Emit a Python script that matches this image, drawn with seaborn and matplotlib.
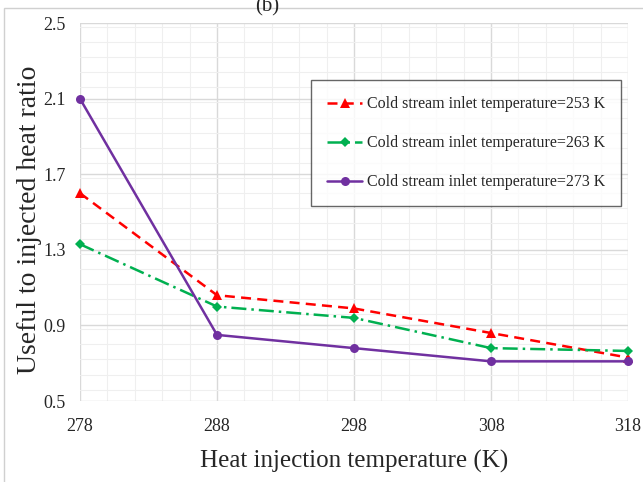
import matplotlib
matplotlib.use("Agg")
import matplotlib.pyplot as plt
from matplotlib.patches import Rectangle
from matplotlib.ticker import MultipleLocator, FormatStrFormatter
import pandas as pd
import seaborn as sns

# data
heat_temp = [278, 288, 298, 308, 318]
ratio_253 = [1.60, 1.06, 0.99, 0.86, 0.73]
ratio_263 = [1.33, 1.00, 0.94, 0.78, 0.765]
ratio_273 = [2.10, 0.85, 0.78, 0.71, 0.71]
y_ticks = [0.5, 0.9, 1.3, 1.7, 2.1, 2.5]
series_names = ["Cold stream inlet temperature=253 K",
                "Cold stream inlet temperature=263 K",
                "Cold stream inlet temperature=273 K"]

rows = []
for name, vals in zip(series_names, [ratio_253, ratio_263, ratio_273]):
    for t, v in zip(heat_temp, vals):
        rows.append({"T": t, "ratio": v, "series": name})
df = pd.DataFrame(rows)

sns.set_style("white")
plt.rcParams["font.family"] = ["Liberation Serif", "DejaVu Serif"]

fig = plt.figure(figsize=(6.43, 4.82), dpi=100)
ax = fig.add_axes([0.1244, 0.168, 0.8523, 0.784])

palette = {series_names[0]: "#FF0000", series_names[1]: "#00B050", series_names[2]: "#7030A0"}
dashes = {series_names[0]: (4, 2.5), series_names[1]: (6, 2, 1, 2), series_names[2]: ""}
markers = {series_names[0]: "^", series_names[1]: "D", series_names[2]: "o"}

sns.lineplot(data=df, x="T", y="ratio", hue="series", style="series",
             palette=palette, dashes=dashes, markers=markers, linewidth=1.8,
             markersize=6.5, markeredgewidth=0, ax=ax, zorder=3, clip_on=False)
for line in ax.lines:
    if line.get_marker() == "D":
        line.set_markersize(5)

ax.set_xlim(278, 318)
ax.set_ylim(0.5, 2.5)
ax.set_xticks(heat_temp)
ax.xaxis.set_minor_locator(MultipleLocator(2))
ax.set_yticks(y_ticks)
ax.yaxis.set_minor_locator(MultipleLocator(0.08))
ax.yaxis.set_major_formatter(FormatStrFormatter("%.1f"))
ax.grid(which="major", color="#d9d9d9", linewidth=1.0)
ax.grid(which="minor", color="#efefef", linewidth=0.8)
ax.set_axisbelow(True)
for s in ax.spines.values():
    s.set_visible(False)
ax.tick_params(which="both", length=0, labelsize=13)
ax.tick_params(axis="x", pad=12)
ax.tick_params(axis="y", pad=10)

ax.set_xlabel("Heat injection temperature (K)", fontsize=18, labelpad=11)
ax.set_ylabel("Useful to injected heat ratio", fontsize=20)
ax.yaxis.set_label_coords(-0.069, 0.479)

leg = ax.legend(title=None, loc="upper left", bbox_to_anchor=(0.4215, 0.849),
                fontsize=11.5, frameon=True, fancybox=False, edgecolor="#404040",
                labelspacing=1.45, handlelength=2.2, handletextpad=0.3,
                borderpad=1.0, borderaxespad=0)
leg.get_frame().set_linewidth(1.0)

fig.text(0.415, 1.005, "(b)", fontsize=15, ha="center", va="top")
fig.patches.append(Rectangle((4 / 643, -0.05), 1.1, 1 - 8 / 482 + 0.05,
                             transform=fig.transFigure, fill=False,
                             edgecolor="#d0d0d0", linewidth=1.0))

fig.savefig("out.png", dpi=100)
